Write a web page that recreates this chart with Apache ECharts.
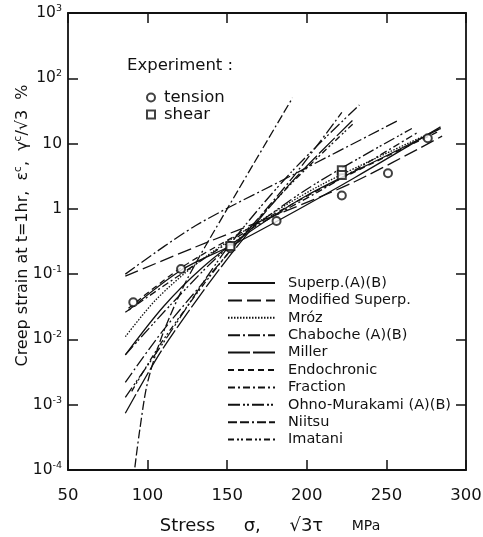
<!DOCTYPE html>
<html>
<head>
<meta charset="utf-8">
<script src="https://cdn.jsdelivr.net/npm/echarts@6/dist/echarts.min.js"></script>
<style>
  html, body { margin: 0; padding: 0; background: #fff; }
  #chart { width: 483px; height: 537px; }
</style>
</head>
<body>
<div id="chart"></div>
<script>
// stress (MPa) vs creep strain at t = 1hr (%)
const tension = [[91, 0.037], [121, 0.12], [152, 0.25], [181, 0.65], [222, 1.6], [251, 3.5], [276, 12.1]];
const shear = [[152, 0.27], [222, 3.9], [222, 3.3]];

const superpA = [[88, 0.028], [121, 0.115], [152, 0.27], [181, 0.64], [230, 3], [284, 18]];
const superpB = [[86, 0.0058], [110, 0.032], [135, 0.13], [160, 0.38], [200, 1.6], [250, 6.5], [284, 17]];
const modSuperp = [[86, 0.093], [130, 0.26], [183, 0.85], [230, 2.6], [285, 13]];
const mroz = [[86, 0.011], [105, 0.04], [130, 0.14], [160, 0.45], [210, 2.4], [284, 17]];
const chabocheA = [[86, 0.1], [130, 0.55], [190, 3.2], [258, 23]];
const chabocheB = [[86, 0.0022], [110, 0.014], [150, 0.2], [190, 2.8], [222, 30]];
const miller = [[86, 0.00074], [110, 0.0075], [150, 0.17], [190, 2.5], [229, 23]];
const endochronic = [[88, 0.03], [121, 0.125], [160, 0.45], [210, 2.1], [282, 15]];
const fraction = [[86, 0.026], [121, 0.1], [160, 0.42], [210, 2.0], [270, 15]];
const ohnoA = [[86, 0.0013], [110, 0.009], [150, 0.25], [190, 3.6], [233, 39]];
const ohnoB = [[86, 0.0058], [115, 0.035], [150, 0.25], [200, 2.0], [266, 17]];
const niitsu = [[92, 0.00011], [95, 0.0004], [100, 0.0022], [110, 0.013], [125, 0.085], [150, 1.0], [191, 50]];
const imatani = [[90, 0.0016], [110, 0.01], [150, 0.2], [190, 2.4], [229, 20]];

const xTicks = [50, 100, 150, 200, 250, 300];
const modelNames = ['Superp.(A)(B)', 'Modified Superp.', 'Mróz', 'Chaboche (A)(B)', 'Miller',
  'Endochronic', 'Fraction', 'Ohno-Murakami (A)(B)', 'Niitsu', 'Imatani'];

const INK = '#111';
const FONT = 'DejaVu Sans';

const dashes = {
  'Superp.(A)(B)': 'solid',
  'Modified Superp.': [14, 5],
  'Mróz': [1.5, 1.5],
  'Chaboche (A)(B)': [12, 3, 2, 3],
  'Miller': [22, 3],
  'Endochronic': [6, 4],
  'Fraction': [7, 3, 2, 3],
  'Ohno-Murakami (A)(B)': [12, 3, 2, 2, 2, 3],
  'Niitsu': [9, 3, 9, 3, 2, 3],
  'Imatani': [6, 3, 2, 2, 2, 3]
};

const curves = [
  ['Superp.(A)(B)', superpA], ['Superp.(A)(B)', superpB],
  ['Modified Superp.', modSuperp], ['Mróz', mroz],
  ['Chaboche (A)(B)', chabocheA], ['Chaboche (A)(B)', chabocheB],
  ['Miller', miller], ['Endochronic', endochronic], ['Fraction', fraction],
  ['Ohno-Murakami (A)(B)', ohnoA], ['Ohno-Murakami (A)(B)', ohnoB],
  ['Niitsu', niitsu], ['Imatani', imatani]
];

const chart = echarts.init(document.getElementById('chart'));

const lineSeries = curves.map(([name, data]) => ({
  name,
  type: 'line',
  data,
  showSymbol: false,
  symbol: 'none',
  smooth: 0.3,
  silent: true,
  lineStyle: { color: INK, width: 1.3, type: dashes[name] },
  itemStyle: { color: INK },
  z: 2
}));

const expLabel = (v) => {
  const e = Math.round(Math.log10(v));
  if (e === 0) return '1';
  if (e === 1) return '10';
  return '10{s|' + e + '}';
};

const baseX = { type: 'value', min: 50, max: 300, interval: 50 };
const baseY = { type: 'log', logBase: 10, min: 1e-4, max: 1e3, splitNumber: 7 };

chart.setOption({
  backgroundColor: '#fff',
  animation: false,
  textStyle: { fontFamily: FONT, color: INK },
  title: {
    text: 'Experiment :',
    left: 122, top: 52,
    textStyle: { fontFamily: FONT, fontSize: 16.5, fontWeight: 'normal', color: INK }
  },
  legend: [
    {
      data: modelNames,
      orient: 'vertical',
      left: 227, top: 275,
      padding: 0,
      itemWidth: 47, itemHeight: 10, itemGap: 1.4,
      selectedMode: false,
      itemStyle: { opacity: 0 },
      textStyle: { fontFamily: FONT, fontSize: 14.5, lineHeight: 16, color: INK, padding: [0, 0, 0, 8] }
    },
    {
      data: ['tension', 'shear'],
      orient: 'vertical',
      left: 146, top: 89,
      padding: 0,
      itemWidth: 8, itemHeight: 8, itemGap: 0,
      selectedMode: false,
      textStyle: { fontFamily: FONT, fontSize: 16.5, lineHeight: 16, color: INK, padding: [0, 0, 0, 4] }
    }
  ],
  grid: { left: 68, right: 17, top: 13, bottom: 67, containLabel: false, outerBoundsMode: 'none' },
  xAxis: [
    Object.assign({}, baseX, {
      position: 'bottom',
      name: '{a|Stress     σ,     √3τ     }{u|MPa}',
      nameLocation: 'middle',
      nameGap: 47,
      nameMoveOverlap: false,
      nameTextStyle: { fontFamily: FONT, fontSize: 18, color: INK, padding: [0, 0, 0, 6],
        rich: {
          a: { fontFamily: FONT, fontSize: 18, color: INK },
          u: { fontFamily: FONT, fontSize: 14, color: INK }
        } },
      axisLine: { lineStyle: { color: INK, width: 1.8 } },
      axisTick: { inside: true, length: 10, lineStyle: { color: INK, width: 1.5 } },
      axisLabel: { fontFamily: FONT, fontSize: 16.5, color: INK, margin: 17,
        formatter: (v) => (xTicks.includes(v) ? String(v) : '') },
      splitLine: { show: false }
    }),
    Object.assign({}, baseX, {
      position: 'top',
      axisLine: { lineStyle: { color: INK, width: 1.8 } },
      axisTick: { inside: true, length: 10, lineStyle: { color: INK, width: 1.5 } },
      axisLabel: { show: false },
      splitLine: { show: false }
    })
  ],
  yAxis: [
    Object.assign({}, baseY, {
      position: 'left',
      name: '{a|Creep strain at t=1hr,  ε}{s|c}{a|,  γ}{s|c}{a|/√3  %}',
      nameLocation: 'middle',
      nameGap: 36,
      nameMoveOverlap: false,
      nameTextStyle: { fontFamily: FONT, fontSize: 16, color: INK, padding: [0, 0, 0, 32],
        rich: {
          a: { fontFamily: FONT, fontSize: 16, color: INK },
          s: { fontFamily: FONT, fontSize: 10.5, color: INK, padding: [0, 0, 8, 0] }
        } },
      axisLine: { lineStyle: { color: INK, width: 1.8 } },
      axisTick: { inside: true, length: 10, lineStyle: { color: INK, width: 1.5 } },
      axisLabel: { fontFamily: FONT, fontSize: 15.5, color: INK, margin: 6,
        formatter: expLabel,
        rich: { s: { fontFamily: FONT, fontSize: 9.5, color: INK, padding: [0, 0, 9, 0] } } },
      splitLine: { show: false }
    }),
    Object.assign({}, baseY, {
      position: 'right',
      axisLine: { lineStyle: { color: INK, width: 1.8 } },
      axisTick: { inside: true, length: 10, lineStyle: { color: INK, width: 1.5 } },
      axisLabel: { show: false },
      splitLine: { show: false }
    })
  ],
  series: lineSeries.concat([
    {
      name: 'tension',
      type: 'scatter',
      data: tension,
      symbol: 'emptyCircle',
      symbolSize: 8,
      itemStyle: { color: INK, borderColor: INK, borderWidth: 1.4 },
      z: 5
    },
    {
      name: 'shear',
      type: 'scatter',
      data: shear,
      symbol: 'emptyRect',
      symbolSize: 8,
      itemStyle: { color: INK, borderColor: INK, borderWidth: 1.4 },
      z: 5
    }
  ])
});
</script>
</body>
</html>
